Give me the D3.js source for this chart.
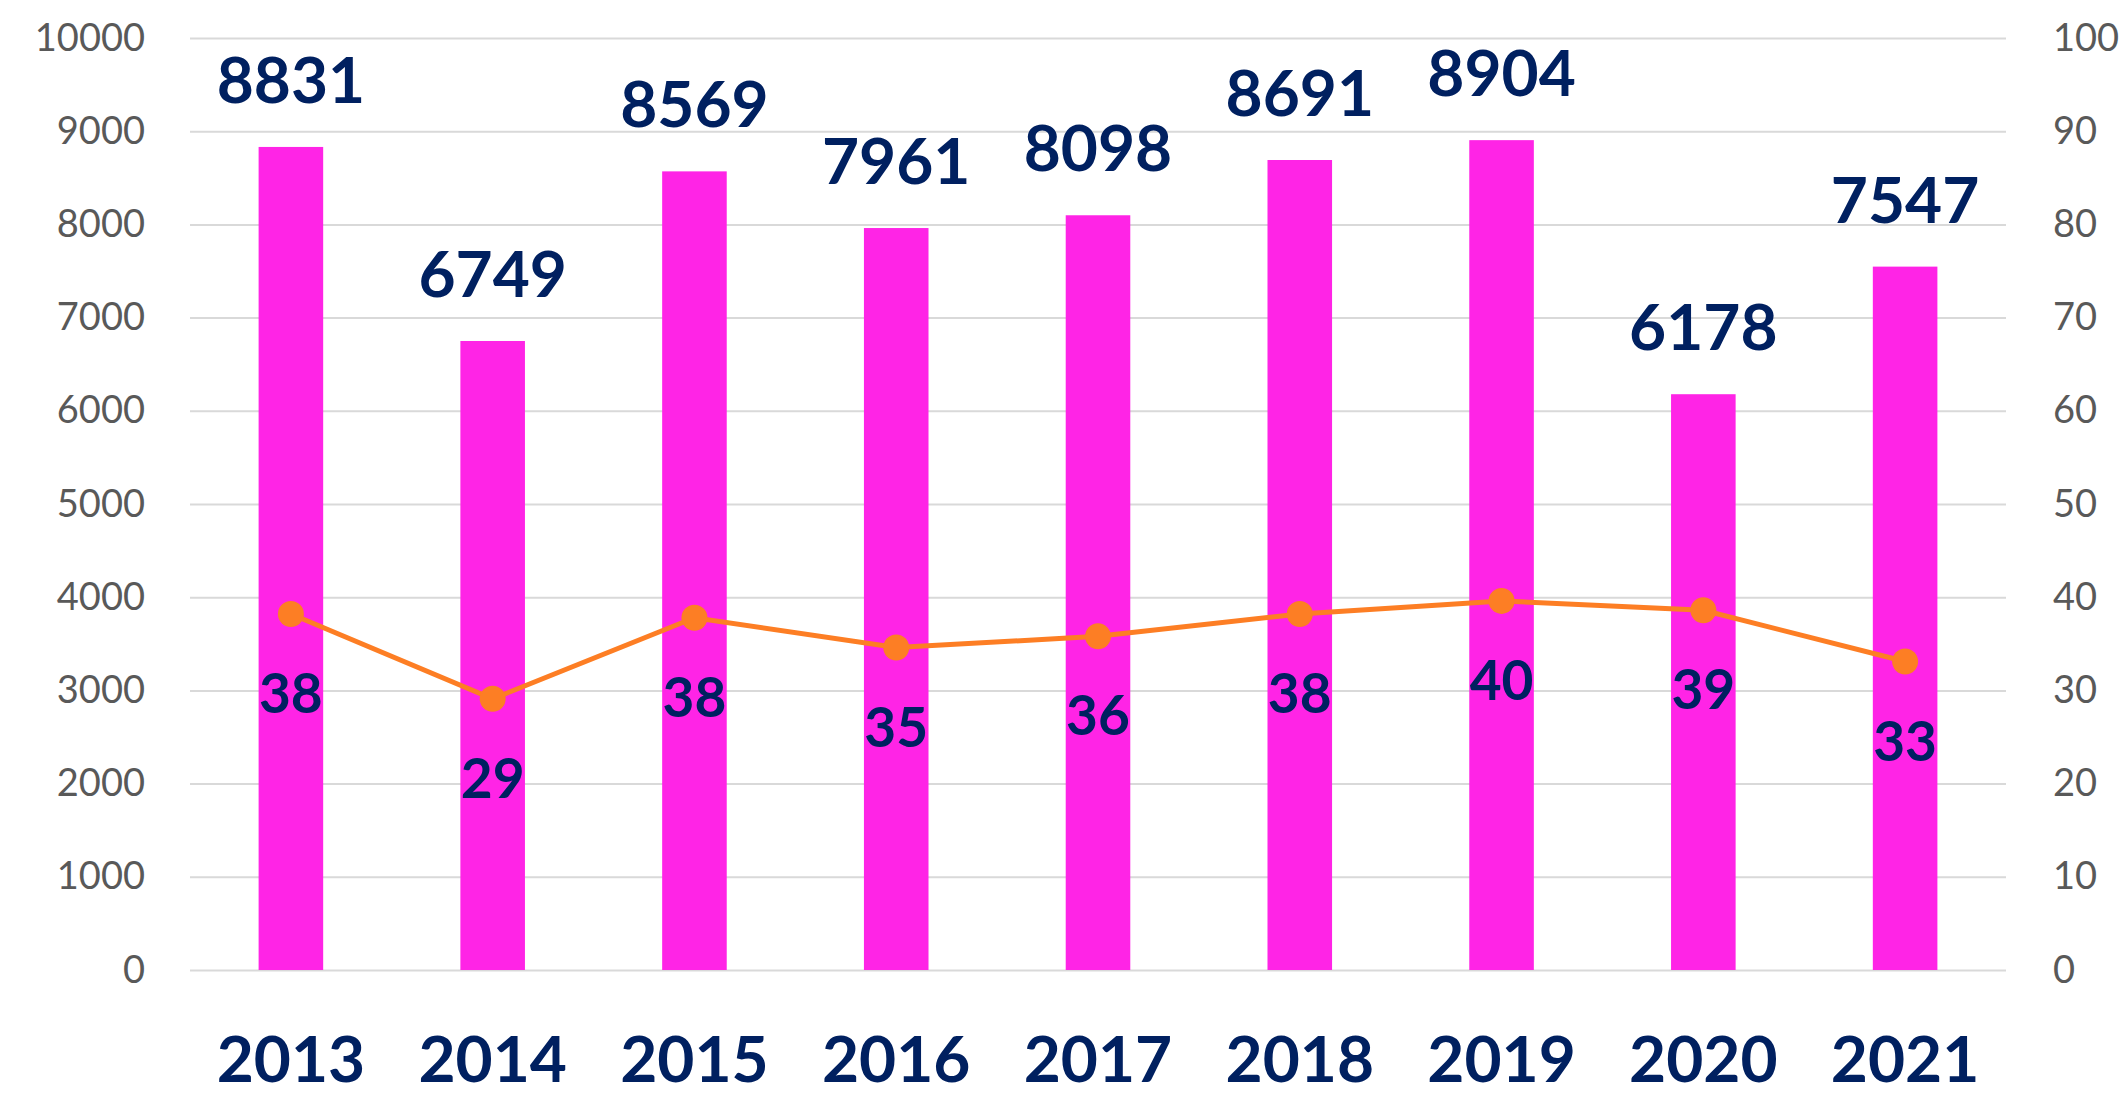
<!DOCTYPE html>
<html>
<head>
<meta charset="utf-8">
<script src="https://cdn.jsdelivr.net/npm/d3@7"></script>
<style>
  body { margin: 0; background: #fff; }
  .tick-label text { font-family: Lato, sans-serif; font-size: 38px; fill: #595959; }
  .grid line { stroke: #d9d9d9; stroke-width: 2; }
  .value-label, .year-label, .rate-label { font-family: Lato, sans-serif; font-weight: bold; fill: #002060; }
</style>
</head>
<body>
<div id="container"></div>
<script>
var years = ["2013", "2014", "2015", "2016", "2017", "2018", "2019", "2020", "2021"];
var counts = [8831, 6749, 8569, 7961, 8098, 8691, 8904, 6178, 7547];
var rates = [38.2, 29.1, 37.8, 34.6, 35.8, 38.2, 39.6, 38.6, 33.1];
var leftTicks = [0, 1000, 2000, 3000, 4000, 5000, 6000, 7000, 8000, 9000, 10000];
var rightTicks = [0, 10, 20, 30, 40, 50, 60, 70, 80, 90, 100];

var barColor = "#ff24e6";
var lineColor = "#fd7e24";

function createChart() {
  var chartWidth = 2124, chartHeight = 1096;
  var left = 190, right = 2006, top = 38, bottom = 970;

  var chart = d3.select("#container").
  append("svg").
  attr("width", chartWidth).
  attr("height", chartHeight);

  var x = d3.scaleBand().
  domain(years).
  range([left, right]).
  paddingInner(0.68).
  paddingOuter(0.34);
  var yLeft = d3.scaleLinear().domain([0, 10000]).range([bottom, top]);
  var yRight = d3.scaleLinear().domain([0, 100]).range([bottom, top]);

  // gridlines
  chart.append("g").
  attr("class", "grid").
  attr("transform", "translate(" + left + ",0)").
  call(d3.axisLeft(yLeft).tickValues(leftTicks).tickSize(-(right - left)).tickFormat("")).
  call(function (g) {g.select(".domain").remove();});

  // left axis labels
  chart.append("g").
  attr("class", "tick-label").
  attr("transform", "translate(" + left + ",0)").
  call(d3.axisLeft(yLeft).tickValues(leftTicks).tickSize(0).tickPadding(45).tickFormat(d3.format("d"))).
  call(function (g) {g.select(".domain").remove();});

  // right axis labels
  chart.append("g").
  attr("class", "tick-label").
  attr("transform", "translate(" + right + ",0)").
  call(d3.axisRight(yRight).tickValues(rightTicks).tickSize(0).tickPadding(47).tickFormat(d3.format("d"))).
  call(function (g) {g.select(".domain").remove();});

  // bars
  chart.append("g").
  selectAll("rect").
  data(counts).
  enter().
  append("rect").
  attr("x", function (d, i) {return x(years[i]);}).
  attr("y", function (d) {return yLeft(d);}).
  attr("width", x.bandwidth()).
  attr("height", function (d) {return yLeft(0) - yLeft(d);}).
  attr("fill", barColor);

  // bar values
  chart.append("g").
  selectAll("text").
  data(counts).
  enter().
  append("text").
  attr("class", "value-label").
  attr("x", function (d, i) {return x(years[i]) + x.bandwidth() / 2;}).
  attr("y", function (d) {return yLeft(d) - 44;}).
  attr("text-anchor", "middle").
  style("font-size", "64px").
  text(function (d) {return d;});

  // rate line
  var cx = function (d, i) {return x(years[i]) + x.bandwidth() / 2;};
  var line = d3.line().
  x(cx).
  y(function (d) {return yRight(d);});
  chart.append("path").
  datum(rates).
  attr("d", line).
  attr("fill", "none").
  attr("stroke", lineColor).
  attr("stroke-width", 5);

  chart.append("g").
  selectAll("circle").
  data(rates).
  enter().
  append("circle").
  attr("cx", cx).
  attr("cy", function (d) {return yRight(d);}).
  attr("r", 13).
  attr("fill", lineColor);

  chart.append("g").
  selectAll("text").
  data(rates).
  enter().
  append("text").
  attr("class", "rate-label").
  attr("x", cx).
  attr("y", function (d) {return yRight(d) + 99;}).
  attr("text-anchor", "middle").
  style("font-size", "55px").
  text(function (d) {return Math.round(d);});

  // year labels
  chart.append("g").
  selectAll("text").
  data(years).
  enter().
  append("text").
  attr("class", "year-label").
  attr("x", function (d) {return x(d) + x.bandwidth() / 2;}).
  attr("y", 1082).
  attr("text-anchor", "middle").
  style("font-size", "64px").
  text(function (d) {return d;});
}

window.onload = function () {
  createChart();
};
</script>
</body>
</html>
